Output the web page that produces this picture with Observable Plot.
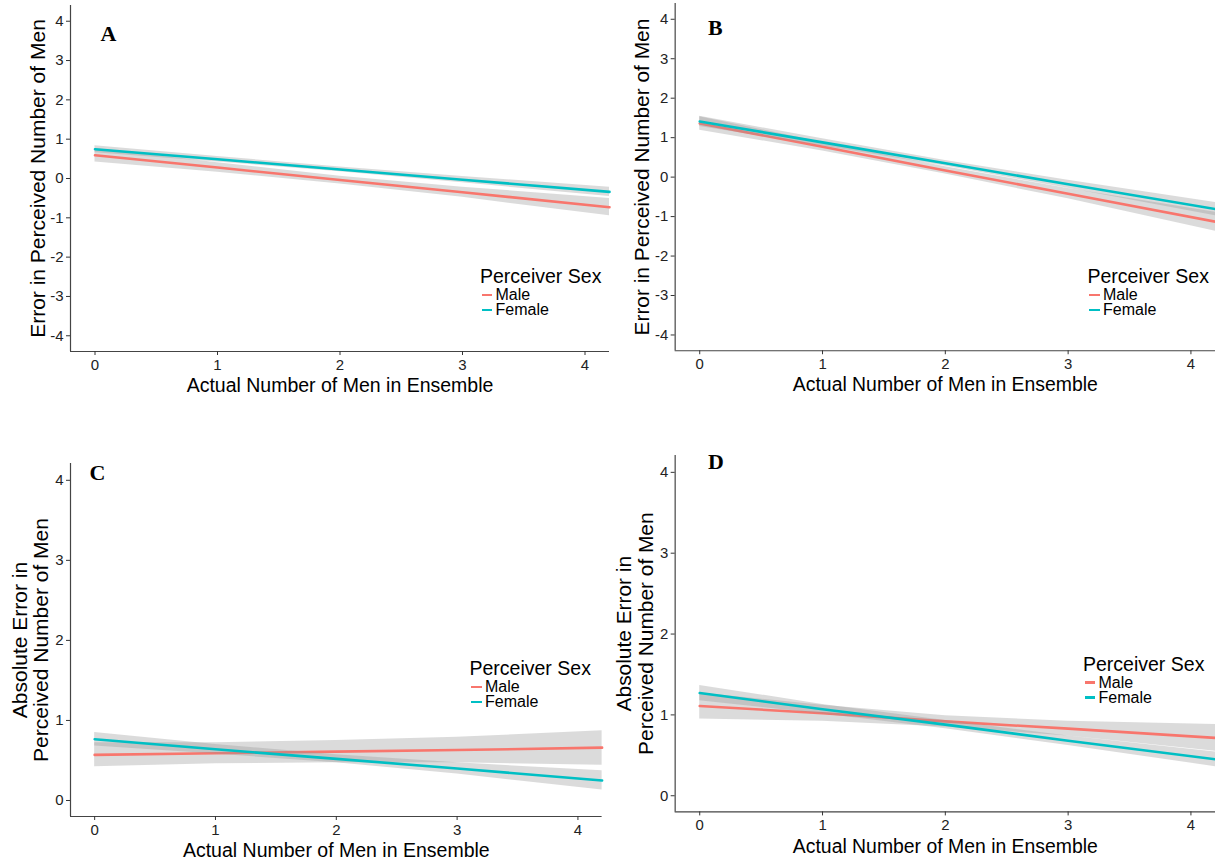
<!DOCTYPE html>
<html><head><meta charset="utf-8">
<script src="https://cdn.jsdelivr.net/npm/d3@7"></script>
<script src="https://cdn.jsdelivr.net/npm/@observablehq/plot@0.6"></script>
<style>
body{margin:0;background:#fff;overflow:hidden}
#root{position:relative;width:1215px;height:863px;overflow:hidden;font-family:"Liberation Sans",Arial,sans-serif;background:#fff}
.panel{position:absolute}
.legend{position:absolute;left:0;top:0;color:#000;white-space:nowrap}
.legend .ttl{position:absolute;font-size:19.5px;line-height:24px}
.legend .row{position:absolute;font-size:16px;line-height:18px}
.legend .key{position:absolute;height:2.6px}
</style></head><body><div id="root"></div>
<script>
// ---- shared labels / categories ----
const sexes = ["Male", "Female"];
const sexColors = ["#F8766D", "#00BFC4"];
const xs = [0, 1, 2, 3, 4.2];
const xTicks = [0, 1, 2, 3, 4];
const errTicks = [-4, -3, -2, -1, 0, 1, 2, 3, 4];
const absTicks = [0, 1, 2, 3, 4];
const xDomain = [-0.2, 4.2];
const errDomain = [-4.4, 4.4];
const absDomain = [-0.2, 4.21];
const xLabel = "Actual Number of Men in Ensemble";
const errLabel = "Error in Perceived Number of Men";
const absLabel = "Absolute Error in\nPerceived Number of Men";
const legendTitle = "Perceiver Sex";
const panelLetters = ["A", "B", "C", "D"];

// ---- Panel A: error, signed ----
const aMaleFit = [0.59, 0.28, -0.04, -0.35, -0.73];
const aMaleLow = [0.42, 0.16, -0.14, -0.48, -0.95];
const aMaleHigh = [0.76, 0.40, 0.06, -0.22, -0.51];
const aFemaleFit = [0.745, 0.49, 0.23, -0.03, -0.34];
const aFemaleLow = [0.655, 0.42, 0.17, -0.11, -0.46];
const aFemaleHigh = [0.835, 0.56, 0.29, 0.05, -0.22];

// ---- Panel B: error, signed ----
const bMaleFit = [1.36, 0.77, 0.17, -0.42, -1.13];
const bMaleLow = [1.19, 0.66, 0.08, -0.55, -1.37];
const bMaleHigh = [1.53, 0.88, 0.26, -0.29, -0.89];
const bFemaleFit = [1.41, 0.88, 0.35, -0.18, -0.81];
const bFemaleLow = [1.28, 0.79, 0.28, -0.28, -0.98];
const bFemaleHigh = [1.54, 0.97, 0.42, -0.08, -0.64];

// ---- Panel C: absolute error ----
const cMaleFit = [0.57, 0.59, 0.61, 0.63, 0.66];
const cMaleLow = [0.42, 0.46, 0.47, 0.47, 0.44];
const cMaleHigh = [0.72, 0.72, 0.75, 0.79, 0.87];
const cFemaleFit = [0.765, 0.64, 0.52, 0.40, 0.25];
const cFemaleLow = [0.68, 0.58, 0.47, 0.33, 0.13];
const cFemaleHigh = [0.85, 0.70, 0.57, 0.47, 0.37];

// ---- Panel D: absolute error ----
const dMaleFit = [1.11, 1.02, 0.92, 0.83, 0.715];
const dMaleLow = [0.95, 0.92, 0.85, 0.74, 0.55];
const dMaleHigh = [1.27, 1.12, 0.99, 0.92, 0.88];
const dFemaleFit = [1.27, 1.07, 0.88, 0.68, 0.45];
const dFemaleLow = [1.175, 1.01, 0.83, 0.62, 0.36];
const dFemaleHigh = [1.365, 1.13, 0.93, 0.74, 0.54];

function rows(sex, fit, low, high) {
  return xs.map((x, i) => ({x, sex, fit: fit[i], low: low[i], high: high[i]}));
}

const FONT = '"Liberation Sans", Arial, sans-serif';
const root = document.getElementById("root");
const fmt = d => String(d);

function makePanel(cfg) {
  const male = rows("Male", ...cfg.male);
  const female = rows("Female", ...cfg.female);
  const marks = [];
  for (const d of [male, female]) {
    marks.push(Plot.areaY(d, {x: "x", y1: "low", y2: "high", fill: "#999999", fillOpacity: 0.35}));
    marks.push(Plot.lineY(d, {x: "x", y: "fit", stroke: "sex", strokeWidth: 2.6}));
  }
  marks.push(Plot.ruleX([xDomain[0]], {stroke: "#444", strokeWidth: 1.2}));
  marks.push(Plot.ruleY([cfg.yDomain[0]], {stroke: "#444", strokeWidth: 1.2}));
  marks.push(Plot.axisX(xTicks, {tickSize: 4, tickPadding: 4, label: null, tickFormat: fmt, fill: "#222"}));
  marks.push(Plot.axisY(cfg.yTicks, {tickSize: 4, tickPadding: 3, label: null, tickFormat: fmt, fill: "#222"}));
  marks.push(Plot.text([xLabel], {text: d => d, frameAnchor: "bottom", dy: cfg.xTitleDy, textAnchor: "middle", lineAnchor: "middle", fontSize: 19.5, fill: "#000"}));
  marks.push(Plot.text([cfg.yLabel], {text: d => d, frameAnchor: "left", dx: cfg.yTitleDx, rotate: -90, textAnchor: "middle", lineAnchor: "middle", fontSize: 21, lineHeight: 1.03, fill: "#000"}));
  marks.push(Plot.text([cfg.letter], {text: d => d, frameAnchor: "top-left", dx: cfg.letterDx, dy: cfg.letterDy, textAnchor: "start", lineAnchor: "middle", fontFamily: '"Liberation Serif", "Times New Roman", serif', fontWeight: "bold", fontSize: 22, fill: "#000"}));
  const chart = Plot.plot({
    width: cfg.width, height: cfg.height,
    marginLeft: 70, marginRight: cfg.mr, marginTop: cfg.mt, marginBottom: cfg.mb,
    style: {fontFamily: FONT, fontSize: "15px", color: "#333", background: "transparent", overflow: "visible"},
    x: {domain: xDomain},
    y: {domain: cfg.yDomain},
    color: {domain: sexes, range: sexColors},
    marks
  });
  const wrap = document.createElement("div");
  wrap.className = "panel";
  wrap.style.left = cfg.left + "px";
  wrap.style.top = cfg.top + "px";
  wrap.appendChild(chart);
  root.appendChild(wrap);

  // legend (HTML, absolute page coordinates)
  const lg = document.createElement("div");
  lg.className = "legend";
  const t = document.createElement("div");
  t.className = "ttl";
  t.textContent = legendTitle;
  t.style.left = cfg.legX + "px";
  t.style.top = (cfg.legY - 12) + "px";
  lg.appendChild(t);
  sexes.forEach((s, i) => {
    const cy = cfg.legY + (i === 0 ? 19 : 34);
    const k = document.createElement("div");
    k.className = "key";
    k.style.left = (cfg.legX + 1.5) + "px";
    k.style.width = "10.5px";
    k.style.top = (cy - 1.3) + "px";
    k.style.background = sexColors[i];
    lg.appendChild(k);
    const r = document.createElement("div");
    r.className = "row";
    r.textContent = s;
    r.style.left = (cfg.legX + 15.5) + "px";
    r.style.top = (cy - 9) + "px";
    lg.appendChild(r);
  });
  root.appendChild(lg);
}

makePanel({letter: panelLetters[0], left: 0, top: 0, width: 610, height: 400, mr: 1, mt: 5, mb: 49,
  yDomain: errDomain, yTicks: errTicks, yLabel: errLabel, xTitleDy: 34, yTitleDx: -32, letterDx: 30, letterDy: 28,
  male: [aMaleFit, aMaleLow, aMaleHigh], female: [aFemaleFit, aFemaleLow, aFemaleHigh], legX: 480, legY: 276});
makePanel({letter: panelLetters[1], left: 605, top: 0, width: 613, height: 400, mr: 0, mt: 3, mb: 48,
  yDomain: errDomain, yTicks: errTicks, yLabel: errLabel, xTitleDy: 34, yTitleDx: -33, letterDx: 33, letterDy: 25,
  male: [bMaleFit, bMaleLow, bMaleHigh], female: [bFemaleFit, bFemaleLow, bFemaleHigh], legX: 1087.5, legY: 276});
makePanel({letter: panelLetters[2], left: 0, top: 430, width: 610, height: 433, mr: 8.4, mt: 33, mb: 47,
  yDomain: absDomain, yTicks: absTicks, yLabel: absLabel, xTitleDy: 34.7, yTitleDx: -40, letterDx: 19, letterDy: 9,
  male: [cMaleFit, cMaleLow, cMaleHigh], female: [cFemaleFit, cFemaleLow, cFemaleHigh], legX: 469.5, legY: 668});
makePanel({letter: panelLetters[3], left: 605, top: 430, width: 613, height: 433, mr: 0, mt: 25, mb: 49.7,
  yDomain: absDomain, yTicks: absTicks, yLabel: absLabel, xTitleDy: 34.7, yTitleDx: -40, letterDx: 33, letterDy: 7,
  male: [dMaleFit, dMaleLow, dMaleHigh], female: [dFemaleFit, dFemaleLow, dFemaleHigh], legX: 1083, legY: 663.5});
</script></body></html>
